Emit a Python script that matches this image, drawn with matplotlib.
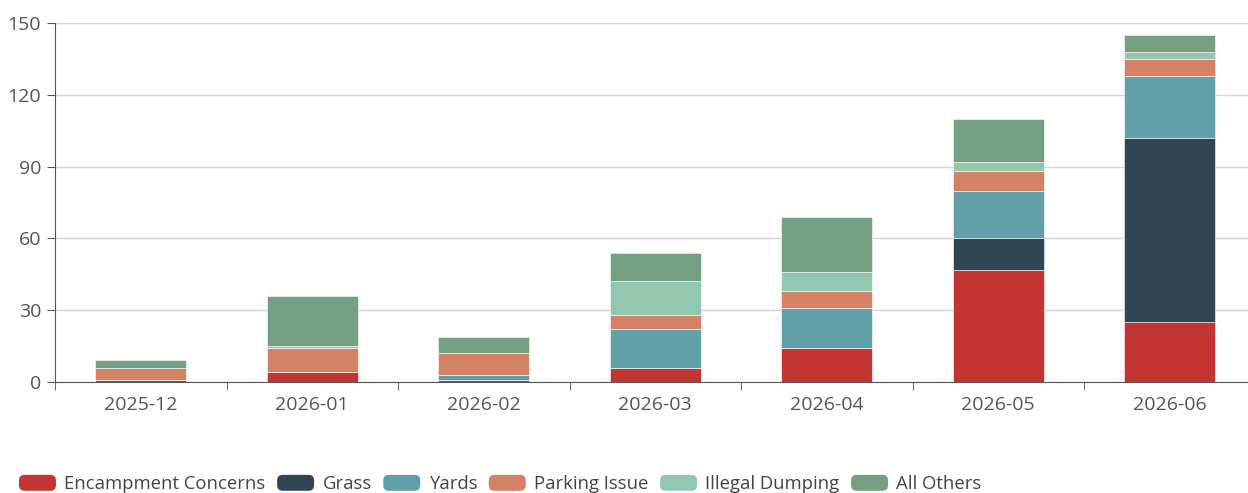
import matplotlib
matplotlib.use("Agg")
import matplotlib.pyplot as plt
from matplotlib.patches import FancyBboxPatch, Patch
from matplotlib.legend_handler import HandlerPatch
import numpy as np

plt.rcParams['font.family'] = ['Open Sans', 'DejaVu Sans']

months = ["2025-12", "2026-01", "2026-02", "2026-03", "2026-04", "2026-05", "2026-06"]
encampment = [1, 4, 1, 6, 14, 47, 25]
grass = [0, 0, 0, 0, 0, 13, 77]
yards = [0, 0, 2, 16, 17, 20, 26]
parking = [5, 10, 9, 6, 7, 8, 7]
dumping = [0, 1, 0, 14, 8, 4, 3]
others = [3, 21, 7, 12, 23, 18, 7]

series = [
    ("Encampment Concerns", encampment, "#c23531"),
    ("Grass", grass, "#2f4554"),
    ("Yards", yards, "#61a0a8"),
    ("Parking Issue", parking, "#d48265"),
    ("Illegal Dumping", dumping, "#91c7ae"),
    ("All Others", others, "#749f83"),
]

fig = plt.figure(figsize=(12.48, 4.93), dpi=100)
# the plot area runs slightly past the right edge of the canvas
ax = fig.add_axes([55 / 1248, 1 - 382 / 493, 1200.5 / 1248, 359 / 493])

x = np.arange(len(months))
bottom = np.zeros(len(months))
for name, vals, color in series:
    ax.bar(x, vals, width=0.53, bottom=bottom, color=color, label=name,
           edgecolor="white", linewidth=0.4, zorder=3)
    bottom += np.array(vals)

ax.set_xlim(-0.5, len(months) - 0.5)
ax.set_ylim(0, 150)
ax.set_yticks([0, 30, 60, 90, 120, 150])
ax.grid(axis="y", color="#d4d4d4", linewidth=1, zorder=0)

for side in ("top", "right"):
    ax.spines[side].set_visible(False)
ax.spines["left"].set_color("#555")
ax.spines["bottom"].set_color("#555")

# labels at bar centres, tick marks between categories
ax.set_xticks(x)
ax.set_xticklabels(months)
ax.set_xticks(np.arange(-0.5, len(months)), minor=True)
ax.tick_params(axis="x", which="major", length=0, pad=10, labelsize=14, labelcolor="#555")
ax.tick_params(axis="x", which="minor", length=6, color="#555")
ax.tick_params(axis="y", length=6, color="#555", pad=4, labelsize=14, labelcolor="#555")


def rounded_box(legend, orig_handle, xdescent, ydescent, width, height, fontsize):
    return FancyBboxPatch((-xdescent, -ydescent), width, height,
                          boxstyle="round,pad=0,rounding_size=4",
                          facecolor=orig_handle.get_facecolor(), edgecolor="none")


handles = [Patch(facecolor=c, label=n) for n, _, c in series]
fig.legend(handles=handles, loc="center left", bbox_to_anchor=(19 / 1248, 9 / 493),
           ncol=6, frameon=False, fontsize=13.3, handlelength=2.0, handleheight=0.95,
           handletextpad=0.45, columnspacing=0.63, borderpad=0, borderaxespad=0,
           labelcolor="#444",
           handler_map={Patch: HandlerPatch(patch_func=rounded_box)})

fig.savefig("out.png", dpi=100)
